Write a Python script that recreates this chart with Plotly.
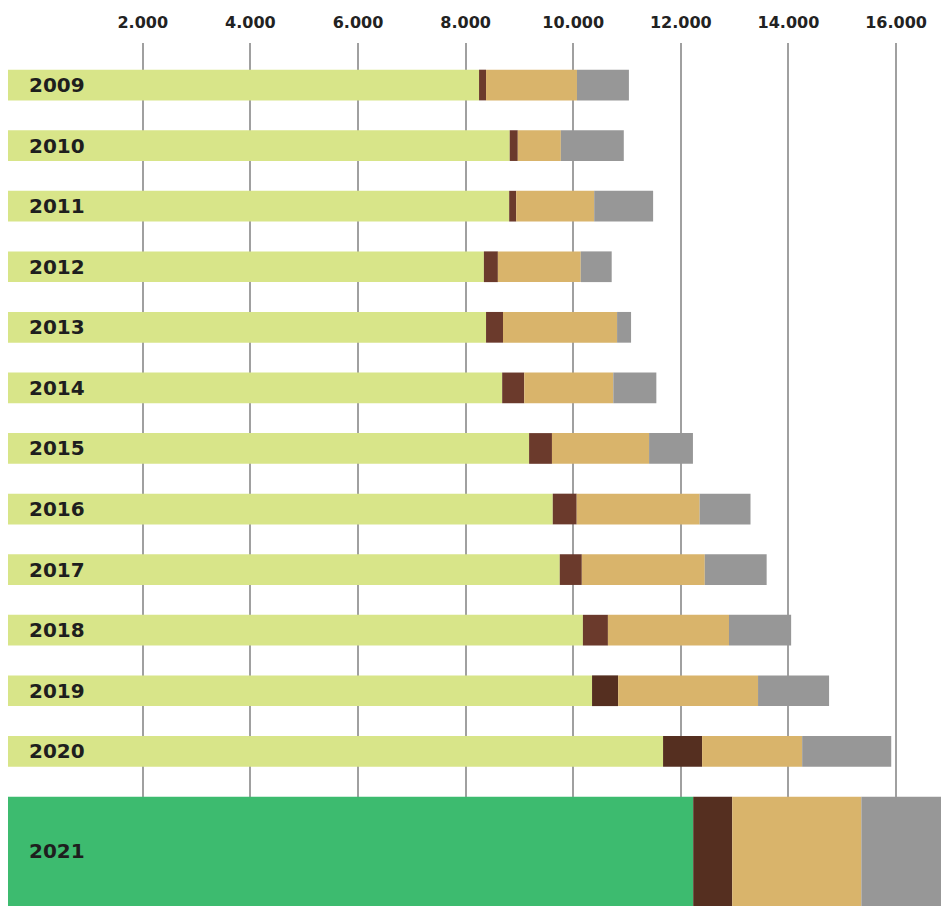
import plotly.graph_objects as go

# ---- data ----
years = ["2009", "2010", "2011", "2012", "2013", "2014", "2015",
         "2016", "2017", "2018", "2019", "2020", "2021"]
green = [8250, 8820, 8810, 8340, 8380, 8680, 9180, 9620, 9750, 10180, 10350, 11670, 12230]
brown = [130, 150, 130, 260, 315, 410, 425, 445, 410, 465, 485, 725, 725]
tan = [1690, 800, 1450, 1540, 2120, 1655, 1805, 2285, 2285, 2250, 2600, 1860, 2400]
gray = [965, 1170, 1095, 575, 260, 800, 815, 945, 1150, 1155, 1320, 1655, 1700]
tick_values = [2000, 4000, 6000, 8000, 10000, 12000, 14000, 16000]
tick_labels = ["2.000", "4.000", "6.000", "8.000", "10.000", "12.000", "14.000", "16.000"]

# ---- layout / style ----
X_MIN, X_MAX = -504, 16835
n = len(years)
row_pos = [float(i) for i in range(n - 1)] + [12.652]
bar_w = [0.507] * (n - 1) + [1.805]

green_col = ["#d8e589"] * (n - 1) + ["#3dbb6f"]
brown_col = ["#6b3a2c"] * 10 + ["#552f20"] * 3
tan_col = ["#d9b46b"] * n
gray_col = ["#979797"] * n

series = [(green, green_col), (brown, brown_col), (tan, tan_col), (gray, gray_col)]

fig = go.Figure()
start = [X_MIN] * n
for i, (vals, cols) in enumerate(series):
    if i == 0:
        base = [X_MIN] * n
        length = [v - X_MIN for v in vals]
        ends = list(vals)
    else:
        base = list(start)
        length = list(vals)
        ends = [b + v for b, v in zip(base, vals)]
    fig.add_trace(go.Bar(
        y=row_pos, x=length, base=base, orientation="h",
        width=bar_w, marker=dict(color=cols, line=dict(width=0)),
        showlegend=False, hoverinfo="skip",
    ))
    start = ends

font_fam = "'DejaVu Sans', Lato, sans-serif"
fig.update_layout(
    width=941, height=906,
    margin=dict(l=8, r=0, t=43, b=0),
    barmode="overlay",
    plot_bgcolor="white", paper_bgcolor="white",
    xaxis=dict(
        side="top", range=[X_MIN, X_MAX],
        tickvals=tick_values, ticktext=tick_labels,
        showgrid=True, gridcolor="#a0a0a0", gridwidth=2,
        zeroline=False, showline=False, ticks="",
        tickfont=dict(family=font_fam, size=16, color="#222222", weight=700),
        ticklabelstandoff=11,
    ),
    yaxis=dict(
        range=[13.554, -0.694],
        tickvals=row_pos, ticktext=years,
        ticklabelposition="inside", ticks="",
        showgrid=False, zeroline=False, showline=False,
        tickfont=dict(family=font_fam, size=20, color="#1e1e1e", weight=700),
        ticklabelstandoff=18,
    ),
)

fig.write_html("out.html")
